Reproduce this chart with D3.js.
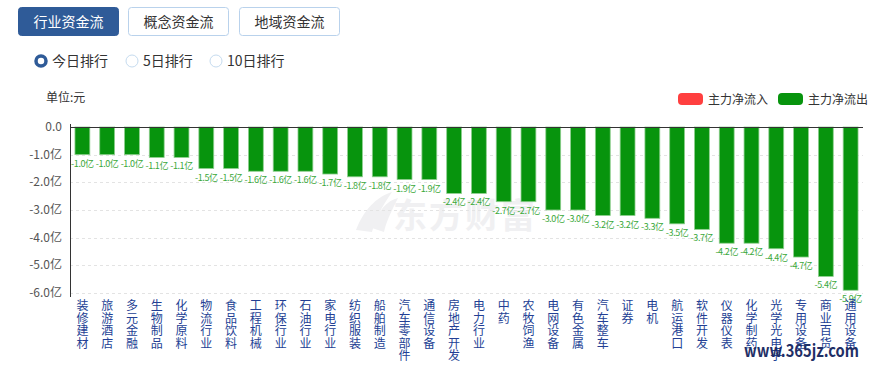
<!DOCTYPE html>
<html><head><meta charset="utf-8">
<script src="https://cdn.jsdelivr.net/npm/d3@7"></script>
<style>
html,body{margin:0;padding:0;background:#fff;}
svg text{font-family:"Noto Sans CJK SC","Microsoft YaHei",sans-serif;}
</style></head>
<body><svg id="c" width="869" height="366"></svg>
<script>
const categories = ["装修建材","旅游酒店","多元金融","生物制品","化学原料","物流行业","食品饮料","工程机械","环保行业","石油行业","家电行业","纺织服装","船舶制造","汽车零部件","通信设备","房地产开发","电力行业","中药","农牧饲渔","电网设备","有色金属","汽车整车","证券","电机","航运港口","软件开发","仪器仪表","化学制药","光学光电子","专用设备","商业百货","通用设备"];
const netFlow = [-1.0,-1.0,-1.0,-1.1,-1.1,-1.5,-1.5,-1.6,-1.6,-1.6,-1.7,-1.8,-1.8,-1.9,-1.9,-2.4,-2.4,-2.7,-2.7,-3.0,-3.0,-3.2,-3.2,-3.3,-3.5,-3.7,-4.2,-4.2,-4.4,-4.7,-5.4,-5.9];
const yTicks = [0,-1,-2,-3,-4,-5,-6];
const tabs = ["行业资金流","概念资金流","地域资金流"];
const radios = ["今日排行","5日排行","10日排行"];
const legendItems = ["主力净流入","主力净流出"];
const legendColors = ["#ff3f3f","#07940d"];

const svg = d3.select("#c");

// tabs
const tabX = [18,128,239];
tabs.forEach((t,i)=>{
  const g = svg.append("g");
  g.append("rect").attr("x",tabX[i]+0.5).attr("y",7.5).attr("width",100).attr("height",28).attr("rx",3)
   .attr("fill", i===0?"#2f5b98":"#fff").attr("stroke", i===0?"#2f5b98":"#b9d2ec");
  g.append("text").attr("x",tabX[i]+50.5).attr("y",27).attr("text-anchor","middle")
   .attr("font-size",14).attr("fill", i===0?"#fff":"#333").text(t);
});

// radios
const radioX = [41,132,216];
radios.forEach((r,i)=>{
  if(i===0){
    svg.append("circle").attr("cx",radioX[i]).attr("cy",61).attr("r",5).attr("fill","#fff").attr("stroke","#2f5b98").attr("stroke-width",3.5);
  } else {
    svg.append("circle").attr("cx",radioX[i]).attr("cy",61).attr("r",6).attr("fill","#fff").attr("stroke","#c5dbef").attr("stroke-width",1);
  }
  svg.append("text").attr("x",radioX[i]+11).attr("y",66).attr("font-size",14).attr("fill","#333").text(r);
});

// unit
svg.append("text").attr("x",46).attr("y",102).attr("font-size",12).attr("fill","#333").text("单位:元");

// legend
const legX = [678,778];
legendItems.forEach((l,i)=>{
  svg.append("rect").attr("x",legX[i]).attr("y",93).attr("width",25).attr("height",12).attr("rx",4).attr("fill",legendColors[i]);
  svg.append("text").attr("x",legX[i]+30).attr("y",103.5).attr("font-size",12).attr("fill","#333").text(l);
});

// watermark
const wm = svg.append("g");
wm.append("path").attr("d","M356,230 C366,205 380,196 392,192 C384,204 376,216 372,232 Z M372,228 C378,210 388,200 398,198 C392,210 386,222 384,232 Z").attr("fill","#f0f0f2");
wm.append("text").attr("x",465).attr("y",228).attr("text-anchor","middle").attr("font-size",34).attr("font-weight","bold").attr("fill","#f0f0f2").attr("letter-spacing",2).text("东方财富");

// scales
const x = d3.scaleBand().domain(categories).range([70,863]).paddingInner(0.4).paddingOuter(0.2);
const y = d3.scaleLinear().domain([-6,0]).range([293,127]);

// grid
svg.append("g").selectAll("line").data(yTicks.filter(d=>d!==0)).join("line")
  .attr("x1",70).attr("x2",863).attr("y1",d=>Math.round(y(d))+0.5).attr("y2",d=>Math.round(y(d))+0.5)
  .attr("stroke","#e3e3e3").attr("stroke-dasharray","3,3");

// y labels
svg.append("g").selectAll("text").data(yTicks).join("text")
  .attr("x",62).attr("y",d=>y(d)+4).attr("text-anchor","end").attr("font-size",12).attr("fill","#555")
  .text(d=> d===0 ? "0.0" : d.toFixed(1)+"亿");

// bars
svg.append("g").selectAll("rect").data(netFlow).join("rect")
  .attr("x",(d,i)=>x(categories[i])).attr("width",x.bandwidth())
  .attr("y",y(0)).attr("height",d=>y(d)-y(0))
  .attr("fill","#07940d").attr("stroke","#8fcf8f").attr("stroke-width",0.8);

// value labels
svg.append("g").selectAll("text").data(netFlow).join("text")
  .attr("x",(d,i)=>x(categories[i])+x.bandwidth()/2).attr("y",d=>y(d)+12)
  .attr("text-anchor","middle").attr("font-size",9).attr("fill","#3aa83a").attr("letter-spacing",-0.4)
  .text(d=>d.toFixed(1)+"亿");

// axes lines
svg.append("line").attr("x1",70).attr("x2",863).attr("y1",127.5).attr("y2",127.5).attr("stroke","#333");
svg.append("line").attr("x1",70.5).attr("x2",70.5).attr("y1",124).attr("y2",297).attr("stroke","#333");

// category labels (vertical)
const cg = svg.append("g");
categories.forEach((c,i)=>{
  const cx = x(c)+x.bandwidth()/2;
  Array.from(c).forEach((ch,j)=>{
    cg.append("text").attr("x",cx).attr("y",310+j*12.5).attr("text-anchor","middle")
      .attr("font-size",12).attr("fill","#233f94").text(ch);
  });
});

// site watermark
svg.append("text").attr("x",744).attr("y",357).attr("font-family","'Liberation Serif','DejaVu Serif',serif")
  .attr("font-size",17).attr("font-weight","bold").attr("fill","#1f2f66")
  .attr("textLength",115).attr("lengthAdjust","spacingAndGlyphs").text("www.365jz.com");
</script></body></html>
